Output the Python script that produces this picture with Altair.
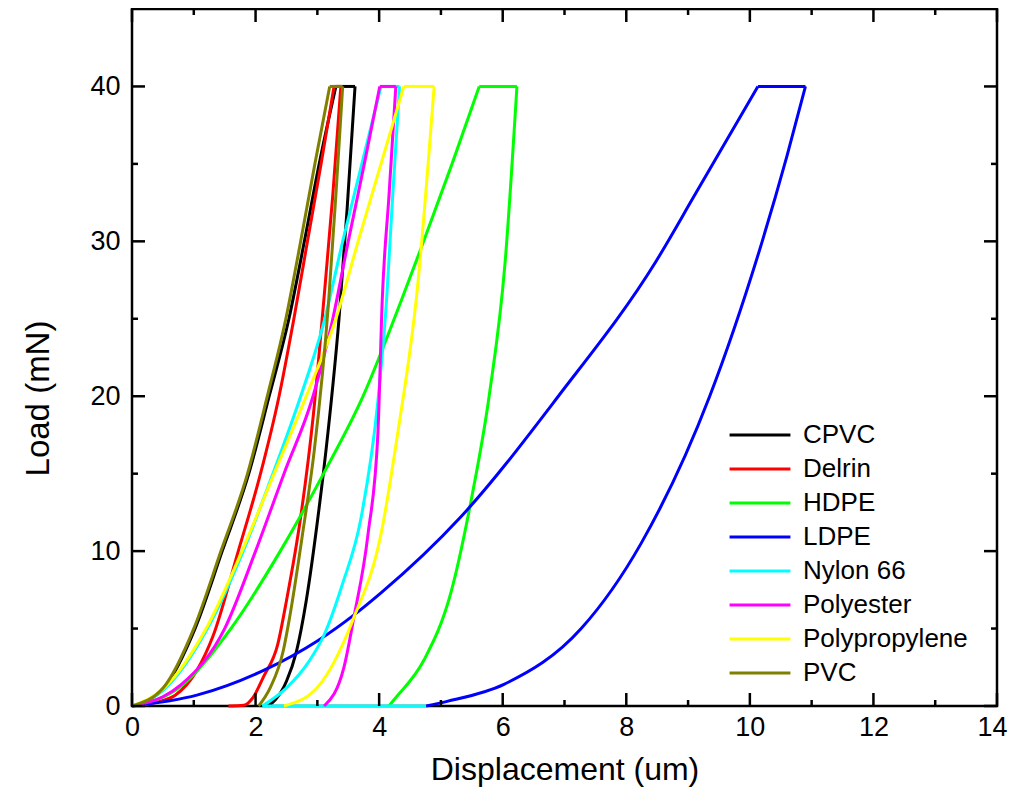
import altair as alt
import pandas as pd

materials = ["CPVC", "Delrin", "HDPE", "LDPE", "Nylon 66", "Polyester", "Polypropylene", "PVC"]
colors = ["#000000", "#FF0000", "#00FF00", "#0000FF", "#00FFFF", "#FF00FF", "#FFFF00", "#808000"]

# loading curves (displacement um, load mN)
load_x = {
    "CPVC":          [0, 0.52, 1.02, 1.46, 1.89, 2.22, 2.54, 2.79, 3.03, 3.30],
    "Delrin":        [0, 0.45, 0.70, 1.05, 1.31, 1.72, 2.08, 2.38, 2.62, 2.84, 3.06, 3.27],
    "HDPE":          [0, 0.77, 1.60, 2.40, 3.10, 3.74, 4.36, 4.72, 5.18, 5.62],
    "LDPE":          [0, 1.05, 2.13, 3.00, 3.60, 4.03, 5.32, 6.90, 8.48, 9.11, 10.13],
    "Nylon 66":      [0, 0.50, 1.22, 1.80, 2.28, 2.73, 3.12, 3.41, 3.72, 4.03],
    "Polyester":     [0, 0.50, 0.80, 1.50, 2.00, 2.46, 2.93, 3.25, 3.50, 3.76, 4.01],
    "Polypropylene": [0, 0.50, 1.20, 1.78, 2.30, 2.82, 3.30, 3.66, 4.03, 4.40],
    "PVC":           [0, 0.51, 1.00, 1.44, 1.87, 2.19, 2.49, 2.73, 2.96, 3.20],
}
load_y = {
    "CPVC":          [0, 1.2, 5, 10, 15, 20, 25, 30, 35, 40],
    "Delrin":        [0, 0.3, 0.7, 2.3, 4.5, 10, 15, 20, 25, 30, 35, 40],
    "HDPE":          [0, 1.2, 5, 10, 15, 20, 26.2, 30, 35, 40],
    "LDPE":          [0, 0.7, 2.3, 4.2, 5.9, 7.3, 12.2, 20, 28.7, 33.0, 40],
    "Nylon 66":      [0, 1.0, 5, 10, 15, 20, 25, 30, 35, 40],
    "Polyester":     [0, 0.6, 1.4, 5, 10, 15, 20, 25, 30, 35, 40],
    "Polypropylene": [0, 1.1, 5, 10, 15, 20, 25, 30, 35, 40],
    "PVC":           [0, 1.2, 5, 10, 15, 20, 25, 30, 35, 40],
}
# end of the hold at maximum load
hold_end_x = {
    "CPVC": 3.61, "Delrin": 3.38, "HDPE": 6.23, "LDPE": 10.90,
    "Nylon 66": 4.33, "Polyester": 4.27, "Polypropylene": 4.89, "PVC": 3.41,
}
max_load = 40
# unloading curves
unload_x = {
    "CPVC":          [2.20, 2.32, 2.50, 2.66, 2.82, 3.01, 3.17, 3.35, 3.48, 3.61],
    "Delrin":        [1.56, 1.81, 1.95, 2.13, 2.36, 2.50, 2.73, 2.93, 3.10, 3.25, 3.38],
    "HDPE":          [4.16, 4.24, 4.73, 5.16, 5.49, 5.78, 6.04, 6.23],
    "LDPE":          [4.76, 5.10, 6.02, 7.27, 8.24, 9.35, 10.20, 10.60, 10.90],
    "Nylon 66":      [2.11, 2.51, 2.85, 3.11, 3.40, 3.71, 3.98, 4.12, 4.22, 4.33],
    "Polyester":     [3.11, 3.43, 3.59, 3.82, 3.98, 4.05, 4.16, 4.27],
    "Polypropylene": [2.46, 3.00, 3.59, 4.03, 4.30, 4.62, 4.89],
    "PVC":           [2.05, 2.24, 2.45, 2.55, 2.76, 2.95, 3.18, 3.30, 3.41],
}
unload_y = {
    "CPVC":          [0, 0.4, 1.6, 3.5, 6.8, 12.2, 17.6, 25, 32, 40],
    "Delrin":        [0, 0.05, 0.5, 1.9, 4.0, 6.8, 12.2, 18.6, 26, 33, 40],
    "HDPE":          [0, 0.4, 3.0, 7.3, 13.3, 20, 28.7, 40],
    "LDPE":          [0, 0.3, 1.4, 5.0, 10.5, 20, 30.0, 35.5, 40],
    "Nylon 66":      [0, 1.2, 2.8, 4.6, 7.8, 12.2, 19.7, 26.2, 33, 40],
    "Polyester":     [0, 2.5, 5.7, 11.1, 17.6, 26.2, 33, 40],
    "Polypropylene": [0, 1.2, 5.7, 11.1, 17.6, 27, 40],
    "PVC":           [0, 1.2, 3.6, 5.7, 11.1, 16.5, 26, 33, 40],
}
# zero-load segment seen along the x axis
tail_x = {"Nylon 66": [2.11, 4.76]}
tail_y = {"Nylon 66": [0, 0]}

x_major = [0, 2, 4, 6, 8, 10, 12, 14]
x_minor = [1, 3, 5, 7, 9, 11, 13]
y_major = [0, 10, 20, 30, 40]
y_minor = [5, 15, 25, 35]

rows = []
for m in materials:
    for x, y in zip(load_x[m], load_y[m]):
        rows.append({"material": m, "seg": m + "_load", "x": x, "y": y})
    rows.append({"material": m, "seg": m + "_hold", "x": load_x[m][-1], "y": max_load})
    rows.append({"material": m, "seg": m + "_hold", "x": hold_end_x[m], "y": max_load})
    for x, y in zip(unload_x[m], unload_y[m]):
        rows.append({"material": m, "seg": m + "_unload", "x": x, "y": y})
    if m in tail_x:
        for x, y in zip(tail_x[m], tail_y[m]):
            rows.append({"material": m, "seg": m + "_tail", "x": x, "y": y})
df = pd.DataFrame(rows)

W, H = 865, 697
FONT = "Liberation Sans"

xscale = alt.Scale(domain=[0, 14], nice=False)
yscale = alt.Scale(domain=[0, 45], nice=False)

# legend line symbol: path spans 3x the nominal symbol box so rows stay compact
SYM = 20.3
lines = alt.Chart(df).mark_line(strokeWidth=3, interpolate="monotone").encode(
    x=alt.X("x:Q", scale=xscale,
            axis=alt.Axis(values=x_major, format="d", ticks=False, domain=False, grid=False,
                          labelFontSize=27, labelPadding=8, labelFont=FONT, labelFlush=False,
                          labelOffset=alt.ExprRef(expr="datum.value == 14 ? -5 : 0"),
                          title="Displacement (um)", titleFontSize=32, titleFont=FONT,
                          titleFontWeight="normal", titlePadding=14, labelColor="black",
                          titleColor="black")),
    y=alt.Y("y:Q", scale=yscale,
            axis=alt.Axis(values=y_major, format="d", ticks=False, domain=False, grid=False,
                          labelFontSize=27, labelPadding=12, labelFont=FONT, labelFlush=False,
                          title="Load (mN)", titleFontSize=33, titleFont=FONT,
                          titleFontWeight="normal", titleX=-94, titleY=389,
                          titleBaseline="middle", titleAlign="center", titleAngle=270,
                          labelColor="black", titleColor="black")),
    color=alt.Color("material:N", sort=materials,
                    scale=alt.Scale(domain=materials, range=colors),
                    legend=alt.Legend(title=None, orient="none", legendX=615, legendY=413,
                                      symbolType="M-3,0H3", symbolSize=SYM * SYM,
                                      symbolStrokeWidth=3, symbolFillColor="transparent",
                                      labelFontSize=26, labelFont=FONT, labelLimit=400,
                                      labelOffset=30, rowPadding=8, padding=0,
                                      labelColor="black")),
    detail="seg:N",
)

def tick_rules(vals, orient, length):
    d = pd.DataFrame({"v": vals})
    base = alt.Chart(d).mark_rule(color="black", strokeWidth=2.5)
    if orient == "bottom":
        return base.encode(x=alt.X("v:Q", scale=xscale), y=alt.value(H), y2=alt.value(H - length))
    if orient == "top":
        return base.encode(x=alt.X("v:Q", scale=xscale), y=alt.value(0), y2=alt.value(length))
    if orient == "left":
        return base.encode(y=alt.Y("v:Q", scale=yscale), x=alt.value(0), x2=alt.value(length))
    return base.encode(y=alt.Y("v:Q", scale=yscale), x=alt.value(W), x2=alt.value(W - length))

ticks = []
for o in ["bottom", "top"]:
    ticks.append(tick_rules(x_major, o, 13))
    ticks.append(tick_rules(x_minor, o, 6))
for o in ["left", "right"]:
    ticks.append(tick_rules(y_major, o, 13))
    ticks.append(tick_rules(y_minor, o, 6))

chart = alt.layer(lines, *ticks).properties(
    width=W, height=H,
    autosize=alt.AutoSizeParams(type="none"),
    padding={"left": 124, "top": 1, "right": 11, "bottom": 84},
).configure(background="white").configure_view(stroke="black", strokeWidth=2.5)

chart.save("out.html", embed_options={"renderer": "svg", "actions": False})
